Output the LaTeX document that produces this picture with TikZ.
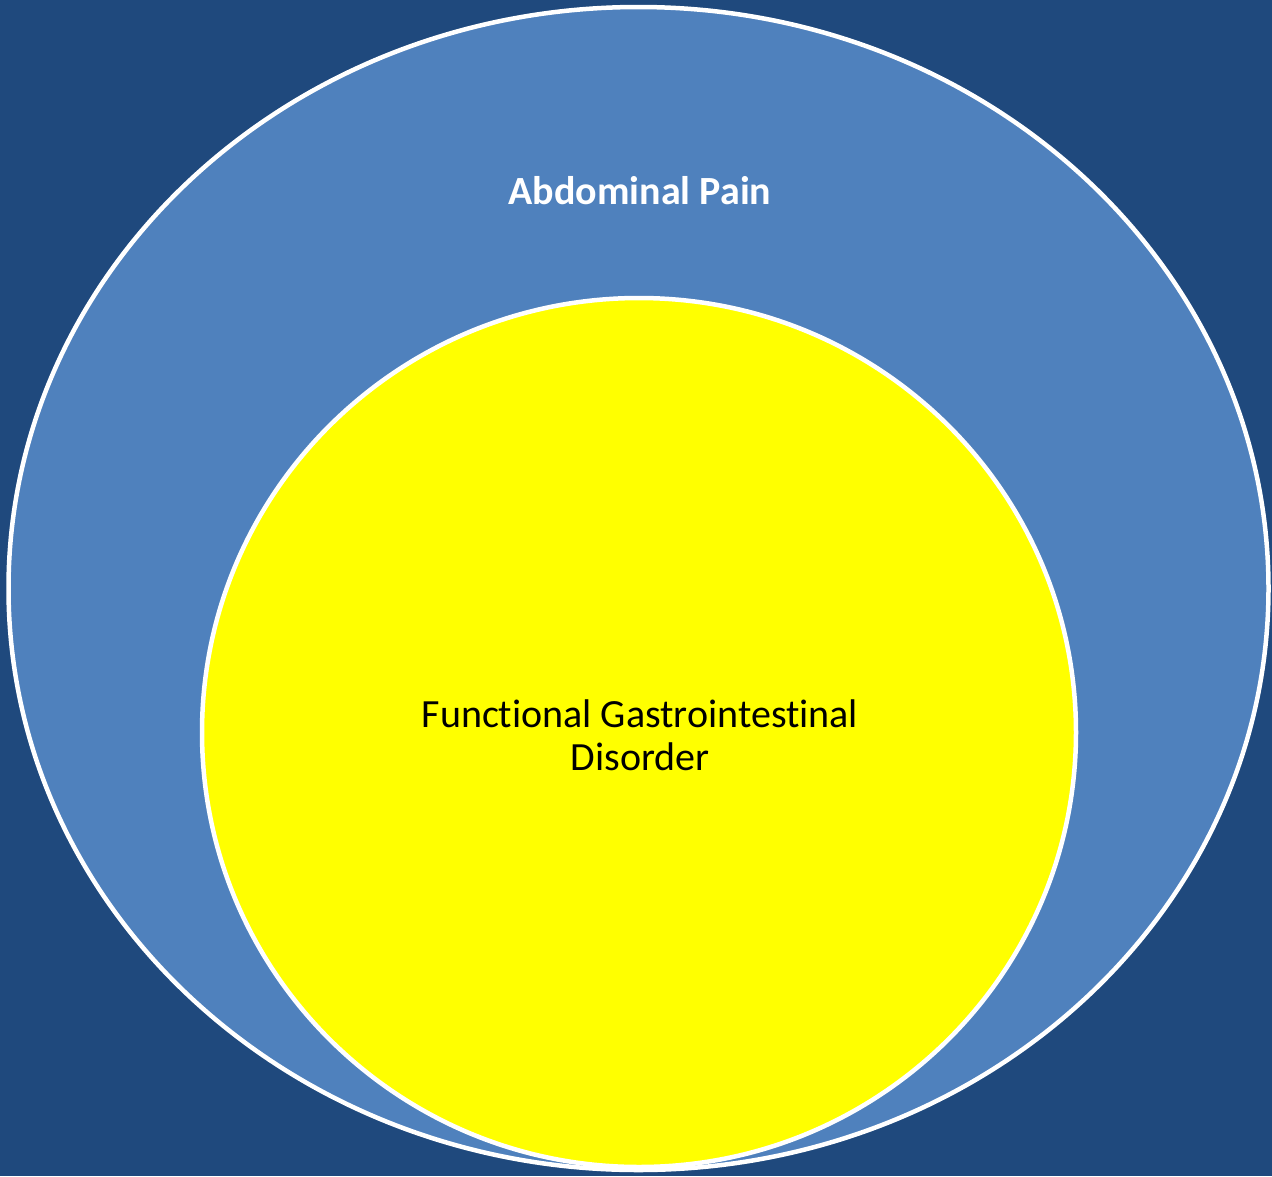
\documentclass[tikz,border=0pt]{standalone}
\usepackage{fontspec}
\setmainfont[Ligatures=NoCommon]{Carlito}
\definecolor{bgblue}{RGB}{31,73,125}
\definecolor{midblue}{RGB}{79,129,189}
\definecolor{yel}{RGB}{255,255,0}
\tikzset{
  ring/.style={draw=white, line width=4.5pt},
  lbl/.style={align=center, inner sep=0pt}
}
\begin{document}
\begin{tikzpicture}[x=1pt,y=-1pt]
\fill[bgblue] (0,0) rectangle (1272,1176);
\useasboundingbox (0,0) rectangle (1272,1176);
\draw[ring, fill=midblue] (638.5,588.5) ellipse [x radius=630, y radius=581.5];
\draw[ring, fill=yel] (639,732.5) ellipse [x radius=437, y radius=434.5];
\node[lbl, text=white, font=\fontsize{40}{48}\selectfont\bfseries] (outer) at (640,191) {Abdominal Pain};
\node[lbl, text=black, font=\fontsize{40}{43}\selectfont] (inner) at (640,735) {Functional Gastrointestinal\\Disorder};
\end{tikzpicture}
\end{document}
